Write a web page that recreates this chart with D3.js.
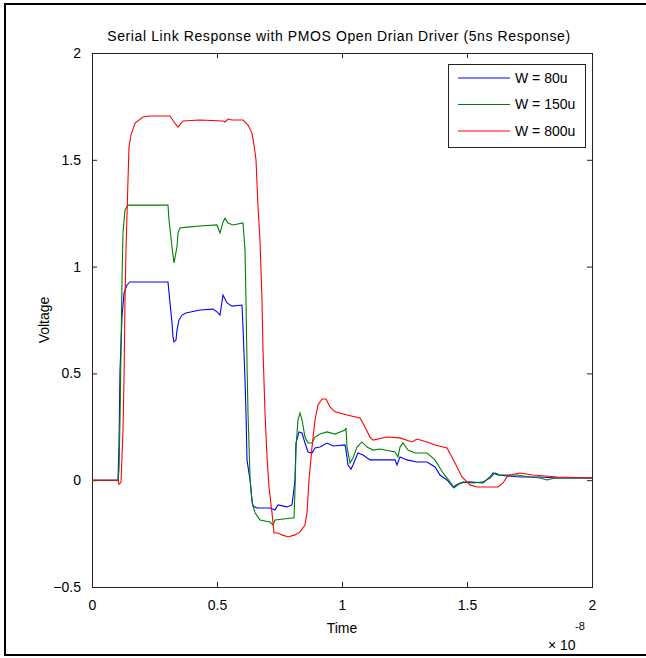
<!DOCTYPE html>
<html>
<head>
<meta charset="utf-8">
<script src="https://cdn.jsdelivr.net/npm/d3@7"></script>
<style>
  html, body { margin: 0; padding: 0; background: #fff; }
  svg { display: block; font-family: "Liberation Sans", Arial, Helvetica, sans-serif; }
</style>
</head>
<body>
<div id="chart"></div>
<script>
// time in units of 1e-8 s, voltage in V
const xTicks = [0, 0.5, 1, 1.5, 2];
const yTicks = [-0.5, 0, 0.5, 1, 1.5, 2];
const seriesNames = ["W = 80u", "W = 150u", "W = 800u"];
const seriesColors = ["#0000ff", "#008000", "#ff0000"];

const w80 = [
  [0, 0], [0.104, 0], [0.108, 0.166], [0.112, 0.516], [0.120, 0.764], [0.128, 0.876], [0.140, 0.914],
  [0.152, 0.928], [0.304, 0.928], [0.312, 0.830], [0.320, 0.736], [0.324, 0.671], [0.328, 0.647],
  [0.336, 0.656], [0.340, 0.703], [0.348, 0.750], [0.360, 0.773], [0.376, 0.783], [0.432, 0.797],
  [0.484, 0.801], [0.500, 0.788], [0.512, 0.773], [0.524, 0.867], [0.540, 0.830], [0.560, 0.815],
  [0.600, 0.820], [0.604, 0.717], [0.612, 0.469], [0.616, 0.315], [0.620, 0.095], [0.632, 0.001],
  [0.640, -0.093], [0.644, -0.121], [0.660, -0.130], [0.712, -0.130], [0.732, -0.140], [0.744, -0.116],
  [0.780, -0.125], [0.800, -0.116], [0.804, -0.079], [0.812, 0.001], [0.816, 0.174], [0.828, 0.226],
  [0.840, 0.221], [0.852, 0.174], [0.864, 0.132], [0.880, 0.127], [0.892, 0.151], [0.912, 0.155],
  [0.940, 0.174], [0.964, 0.160], [1.012, 0.165], [1.016, 0.141], [1.024, 0.071], [1.036, 0.052],
  [1.044, 0.071], [1.064, 0.127], [1.084, 0.118], [1.112, 0.095], [1.212, 0.095], [1.220, 0.071],
  [1.232, 0.109], [1.260, 0.095], [1.300, 0.085], [1.340, 0.085], [1.372, 0.062], [1.392, 0.024],
  [1.420, 0.001], [1.444, -0.032], [1.472, -0.013], [1.512, -0.008], [1.564, -0.013], [1.592, 0.015],
  [1.604, 0.034], [1.624, 0.024], [1.712, 0.015], [1.792, 0.015], [1.860, 0.010], [2.000, 0.010]
];

const w150 = [
  [0, 0], [0.104, 0], [0.108, 0.048], [0.112, 0.282], [0.116, 0.610], [0.120, 0.937], [0.124, 1.157],
  [0.132, 1.265], [0.144, 1.288], [0.304, 1.288], [0.308, 1.218], [0.320, 1.092], [0.328, 1.017],
  [0.340, 1.092], [0.344, 1.157], [0.352, 1.181], [0.380, 1.185], [0.432, 1.190], [0.500, 1.195],
  [0.512, 1.157], [0.524, 1.208], [0.532, 1.227], [0.544, 1.204], [0.564, 1.195], [0.604, 1.204],
  [0.612, 1.078], [0.616, 0.844], [0.620, 0.548], [0.624, 0.315], [0.632, 0.015], [0.640, -0.102],
  [0.652, -0.153], [0.672, -0.186], [0.712, -0.196], [0.724, -0.210], [0.732, -0.186], [0.800, -0.177],
  [0.808, -0.177], [0.812, -0.046], [0.816, 0.155], [0.824, 0.282], [0.832, 0.315], [0.840, 0.282],
  [0.852, 0.202], [0.864, 0.174], [0.880, 0.174], [0.892, 0.202], [0.912, 0.216], [0.940, 0.226],
  [0.972, 0.216], [1.012, 0.235], [1.016, 0.245], [1.020, 0.155], [1.032, 0.081], [1.044, 0.104],
  [1.060, 0.155], [1.080, 0.179], [1.100, 0.155], [1.124, 0.141], [1.152, 0.146], [1.212, 0.132],
  [1.224, 0.109], [1.232, 0.155], [1.244, 0.174], [1.264, 0.141], [1.292, 0.127], [1.340, 0.127],
  [1.372, 0.095], [1.404, 0.034], [1.432, -0.008], [1.448, -0.036], [1.464, -0.022], [1.484, -0.008],
  [1.524, -0.013], [1.564, -0.008], [1.592, 0.010], [1.612, 0.034], [1.632, 0.024], [1.700, 0.024],
  [1.752, 0.015], [1.792, 0.010], [1.820, 0.001], [1.852, 0.010], [2.000, 0.010]
];

const w800 = [
  [0, 0], [0.104, 0], [0.108, -0.020], [0.116, -0.010], [0.124, 0.235], [0.128, 0.469], [0.132, 0.844],
  [0.136, 1.078], [0.144, 1.406], [0.148, 1.560], [0.156, 1.616], [0.172, 1.672], [0.204, 1.700],
  [0.232, 1.705], [0.312, 1.705], [0.328, 1.677], [0.344, 1.653], [0.364, 1.682], [0.432, 1.686],
  [0.524, 1.682], [0.532, 1.677], [0.544, 1.691], [0.560, 1.686], [0.604, 1.686], [0.624, 1.663],
  [0.640, 1.625], [0.648, 1.569], [0.656, 1.500], [0.664, 1.279], [0.672, 1.124], [0.680, 0.844],
  [0.684, 0.610], [0.692, 0.315], [0.700, 0.109], [0.708, -0.032], [0.720, -0.153], [0.728, -0.247],
  [0.744, -0.247], [0.760, -0.256], [0.784, -0.266], [0.812, -0.256], [0.832, -0.242], [0.852, -0.210],
  [0.860, -0.153], [0.868, 0.001], [0.880, 0.155], [0.892, 0.282], [0.904, 0.352], [0.920, 0.380],
  [0.936, 0.380], [0.952, 0.343], [0.972, 0.320], [1.020, 0.305], [1.072, 0.291], [1.092, 0.249],
  [1.112, 0.202], [1.124, 0.188], [1.180, 0.202], [1.232, 0.198], [1.280, 0.179], [1.300, 0.193],
  [1.340, 0.179], [1.372, 0.165], [1.420, 0.151], [1.452, 0.081], [1.480, 0.015], [1.512, -0.022],
  [1.540, -0.032], [1.624, -0.032], [1.644, -0.013], [1.660, 0.015], [1.672, 0.024], [1.712, 0.034],
  [1.764, 0.024], [1.860, 0.015], [2.000, 0.010]
];

const series = [w80, w150, w800];

const W = 646, H = 658;
const plot = { left: 92, right: 592, top: 53, bottom: 587 };

const svg = d3.select("#chart").append("svg")
  .attr("width", W).attr("height", H);

// outer frame (right edge runs off the picture)
svg.append("rect")
  .attr("x", 5).attr("y", 4).attr("width", 700).attr("height", 651)
  .attr("fill", "#fff").attr("stroke", "#000").attr("stroke-width", 2);

const x = d3.scaleLinear().domain([0, 2]).range([plot.left, plot.right]);
const y = d3.scaleLinear().domain([-0.5, 2]).range([plot.bottom, plot.top]);

const tickLen = 5;
const styleAxis = g => {
  g.select(".domain").remove();
  g.selectAll(".tick line").attr("stroke", "#222");
  g.selectAll(".tick text").attr("fill", "#000").attr("font-size", 14)
    .attr("font-family", "'Liberation Sans', Arial, sans-serif");
};

svg.append("g")
  .attr("transform", `translate(0,${plot.bottom})`)
  .call(d3.axisBottom(x).tickValues(xTicks).tickSize(-tickLen).tickPadding(13).tickFormat(d3.format("")))
  .call(styleAxis);
svg.append("g")
  .attr("transform", `translate(0,${plot.top})`)
  .call(d3.axisTop(x).tickValues(xTicks).tickSize(-tickLen).tickFormat(""))
  .call(styleAxis);
svg.append("g")
  .attr("transform", `translate(${plot.left},0)`)
  .call(d3.axisLeft(y).tickValues(yTicks).tickSize(-tickLen).tickPadding(11).tickFormat(d3.format("")))
  .call(styleAxis);
svg.append("g")
  .attr("transform", `translate(${plot.right},0)`)
  .call(d3.axisRight(y).tickValues(yTicks).tickSize(-tickLen).tickFormat(""))
  .call(styleAxis);

svg.append("rect")
  .attr("x", plot.left + 0.5).attr("y", plot.top + 0.5)
  .attr("width", plot.right - plot.left).attr("height", plot.bottom - plot.top)
  .attr("fill", "none").attr("stroke", "#222").attr("stroke-width", 1);

const line = d3.line().x(d => x(d[0])).y(d => y(d[1]));

svg.append("g").selectAll("path").data(series).join("path")
  .attr("d", line)
  .attr("fill", "none")
  .attr("stroke", (d, i) => seriesColors[i])
  .attr("stroke-width", 1.1)
  .attr("stroke-linejoin", "miter");

// title and axis labels
svg.append("text")
  .attr("x", (plot.left + plot.right) / 2 - 3).attr("y", 41)
  .attr("text-anchor", "middle").attr("font-size", 14)
  .attr("letter-spacing", "0.6px")
  .text("Serial Link Response with PMOS Open Drian Driver (5ns Response)");

svg.append("text")
  .attr("x", (plot.left + plot.right) / 2).attr("y", 633)
  .attr("text-anchor", "middle").attr("font-size", 14)
  .text("Time");

svg.append("text")
  .attr("transform", "translate(49,320) rotate(-90)")
  .attr("text-anchor", "middle").attr("font-size", 14)
  .text("Voltage");

svg.append("text")
  .attr("x", 548).attr("y", 650).attr("font-size", 14)
  .text("\u00d7 10");
svg.append("text")
  .attr("x", 575).attr("y", 630).attr("font-size", 11)
  .text("-8");

// legend
const legend = svg.append("g").attr("transform", "translate(448,64)");
legend.append("rect")
  .attr("x", 0.5).attr("y", 0.5).attr("width", 137).attr("height", 83)
  .attr("fill", "#fff").attr("stroke", "#222");
seriesNames.forEach((name, i) => {
  const ly = 14 + i * 26.5;
  legend.append("line")
    .attr("x1", 10).attr("x2", 62).attr("y1", ly).attr("y2", ly)
    .attr("stroke", seriesColors[i]).attr("stroke-width", 1.1);
  legend.append("text")
    .attr("x", 67).attr("y", ly).attr("dy", "0.35em")
    .attr("font-size", 14)
    .text(name);
});
</script>
</body>
</html>
